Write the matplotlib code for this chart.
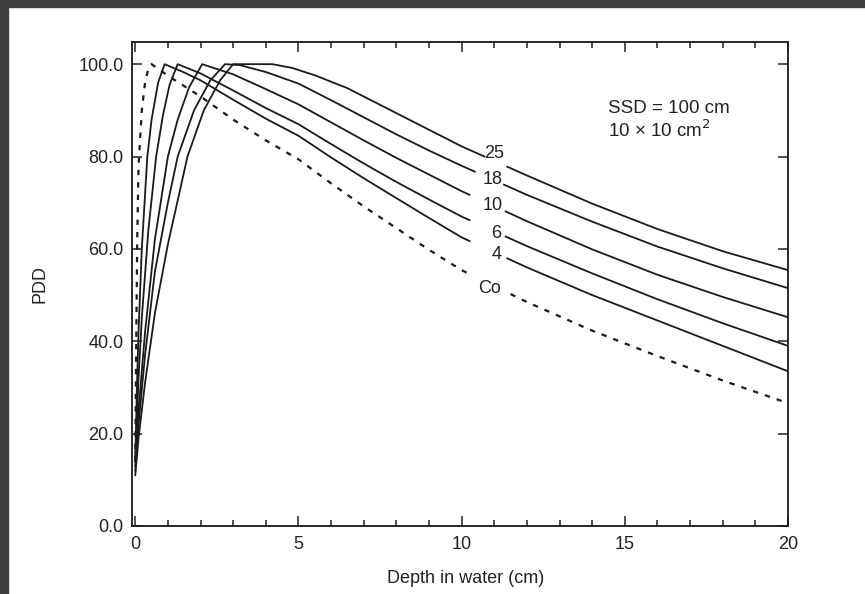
import numpy as np
import matplotlib.pyplot as plt
from matplotlib.patches import Rectangle

plt.rcParams['font.family'] = ['Liberation Sans', 'DejaVu Sans']

# Profundidades (cm) y PDD
d_co = [0, 0.03, 0.06, 0.1, 0.2, 0.3, 0.4, 0.5, 1.0, 2.0, 3.0, 4.0, 5.0, 6.0, 7.0, 8.0, 9.0, 10.0, 12.0, 14.0, 16.0, 18.0, 20.0]
p_co = [14, 40, 62, 78, 90, 96, 99, 100, 97.5, 93, 88, 83.5, 79.4, 74.2, 69.2, 64.5, 59.8, 55.4, 48.5, 42.3, 36.8, 31.5, 26.6]

d_4 = [0, 0.05, 0.1, 0.2, 0.37, 0.5, 0.7, 0.9, 1.5, 2.0, 3.0, 4.0, 5.0, 6.0, 7.0, 8.0, 9.0, 10.0, 12.0, 14.0, 16.0, 18.0, 20.0]
p_4 = [14, 30, 42, 60, 80, 88, 96, 100, 98.2, 96.5, 92.3, 88.2, 84.5, 79.8, 75.3, 71.0, 66.7, 62.5, 56.0, 50.0, 44.5, 39.0, 33.5]

d_6 = [0, 0.1, 0.2, 0.4, 0.64, 0.85, 1.05, 1.3, 2.0, 3.0, 4.0, 5.0, 6.0, 7.0, 8.0, 9.0, 10.0, 12.0, 14.0, 16.0, 18.0, 20.0]
p_6 = [14, 32, 45, 64, 80, 89, 95.5, 100, 98, 94.3, 90.5, 87, 82.7, 78.5, 74.5, 70.7, 67, 60.6, 54.7, 49.1, 43.9, 39]

d_10 = [0, 0.1, 0.3, 0.6, 1.0, 1.3, 1.65, 2.05, 3.0, 4.0, 5.0, 6.0, 7.0, 8.0, 9.0, 10.0, 12.0, 14.0, 16.0, 18.0, 20.0]
p_10 = [13, 25, 42, 62, 80, 88, 95, 100, 97.8, 94.6, 91.3, 87.4, 83.5, 79.7, 76.1, 72.5, 66, 59.9, 54.4, 49.6, 45.2]

d_18 = [0, 0.1, 0.3, 0.6, 1.0, 1.3, 1.8, 2.3, 2.75, 3.2, 4.0, 5.0, 6.0, 7.0, 8.0, 9.0, 10.0, 12.0, 14.0, 16.0, 18.0, 20.0]
p_18 = [12, 22, 37, 55, 70, 80, 90, 96.5, 100, 99.8, 98.3, 95.8, 92.2, 88.5, 84.8, 81.3, 78, 71.7, 65.9, 60.5, 55.8, 51.5]

d_25 = [0, 0.1, 0.3, 0.6, 1.0, 1.6, 2.1, 2.6, 3.0, 3.5, 4.2, 4.8, 5.5, 6.5, 7.5, 8.5, 10.0, 12.0, 14.0, 16.0, 18.0, 20.0]
p_25 = [11, 19, 31, 46, 61, 80, 90, 96.5, 100, 100, 100, 99.2, 97.6, 94.8, 91.2, 87.6, 82.2, 75.9, 69.8, 64.3, 59.5, 55.4]

etiquetas = ['25', '18', '10', '6', '4', 'Co']
pos_etiq = [(11.0, 80.7), (10.95, 75.1), (10.95, 69.3), (11.07, 63.4), (11.07, 58.7), (10.86, 51.5)]
huecos = [(10.7, 11.4), (10.4, 11.3), (10.24, 11.35), (10.24, 11.35), (10.24, 11.4), (10.2, 11.5)]

curvas = [(d_25, p_25), (d_18, p_18), (d_10, p_10), (d_6, p_6), (d_4, p_4), (d_co, p_co)]

yticks = [0, 20, 40, 60, 80, 100]
yticklabels = ['0.0', '20.0', '40.0', '60.0', '80.0', '100.0']
xticks = [0, 5, 10, 15, 20]


def partir(d, p, a, b):
    # corta la curva alrededor de la etiqueta
    d = np.array(d, dtype=float)
    p = np.array(p, dtype=float)
    izq = d < a
    der = d > b
    d1 = np.append(d[izq], a)
    p1 = np.append(p[izq], np.interp(a, d, p))
    d2 = np.insert(d[der], 0, b)
    p2 = np.insert(p[der], 0, np.interp(b, d, p))
    return (d1, p1), (d2, p2)


fig = plt.figure(figsize=(8.65, 5.94), dpi=100, facecolor='white')
ax = fig.add_axes([132 / 865, 1 - 526 / 594, 656 / 865, 484 / 594])

for i, (d, p) in enumerate(curvas):
    a, b = huecos[i]
    for dd, pp in partir(d, p, a, b):
        if etiquetas[i] == 'Co':
            ax.plot(dd, pp, color='#1a1a1a', lw=1.6, linestyle=(0, (2.4, 3.2)))
        else:
            ax.plot(dd, pp, color='#1a1a1a', lw=1.3)
    ax.text(pos_etiq[i][0], pos_etiq[i][1], etiquetas[i], ha='center', va='center',
            fontsize=13, color='#222222')

ax.text(14.5, 90.5, 'SSD = 100 cm', fontsize=13.5, color='#222222', va='center')
ax.text(14.5, 85.6, '10 × 10 cm$^2$', fontsize=13.5, color='#222222', va='center')

ax.set_xlim(-0.1, 20)
ax.set_ylim(0, 104.8)
ax.set_xticks(xticks)
ax.set_xticks(range(0, 21), minor=True)
ax.set_yticks(yticks)
ax.set_yticklabels(yticklabels)
ax.tick_params(which='both', direction='in', top=True, right=True, labelsize=13,
               colors='#222222', width=1.1)
ax.tick_params(which='major', length=7)
ax.tick_params(axis='x', which='major', pad=7)
ax.tick_params(axis='y', which='major', pad=6)
ax.tick_params(which='minor', length=4)
for s in ax.spines.values():
    s.set_linewidth(1.3)
    s.set_color('#1a1a1a')

ax.set_xlabel('Depth in water (cm)', fontsize=13, color='#222222')
ax.set_ylabel('PDD', fontsize=13, color='#222222')
ax.xaxis.set_label_coords(0.508, -0.09)
ax.yaxis.set_label_coords(-0.128, 0.5)

# borde oscuro de la captura
fig.add_artist(Rectangle((0, 1 - 7 / 594), 1, 7 / 594, transform=fig.transFigure,
                         color='#3c3c3c', zorder=10))
fig.add_artist(Rectangle((0, 0), 8 / 865, 1, transform=fig.transFigure,
                         color='#3c3c3c', zorder=10))

fig.savefig('out.png', dpi=100, facecolor='white')
